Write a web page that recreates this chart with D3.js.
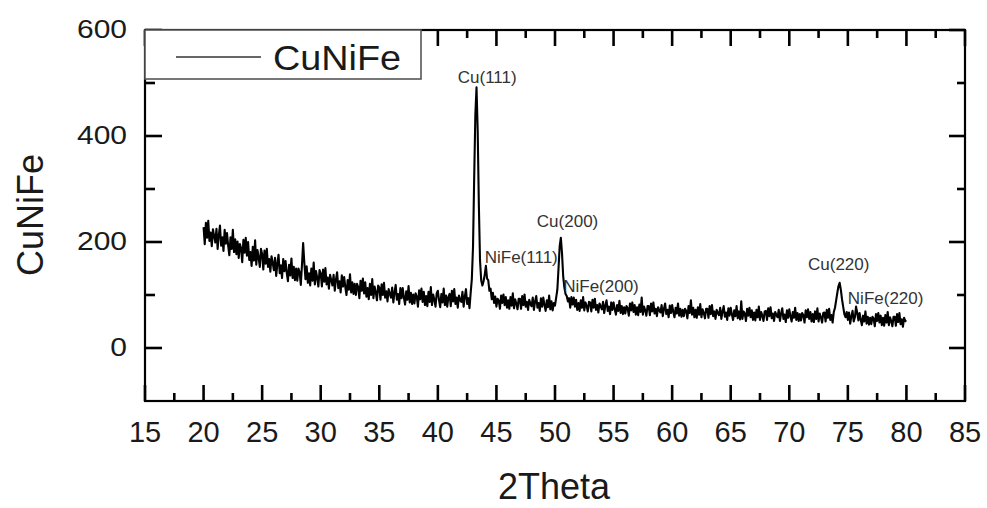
<!DOCTYPE html>
<html>
<head>
<meta charset="utf-8">
<script src="https://cdn.jsdelivr.net/npm/d3@7"></script>
<style>
  body { margin: 0; background: #fff; }
  svg { display: block; font-family: "Liberation Sans", Arial, sans-serif; }
</style>
</head>
<body>
<svg id="chart" width="987" height="508"></svg>
<script>
// scan: 20..80 deg, 0.1 deg step
const thetaStart = 20;
const thetaStep = 0.1;
const counts = [
  228,196,236,208,240,202,218,192,224,211, // 20
  199,225,187,213,231,193,209,183,223,197,
  217,193,175,209,187,223,181,205,177,201,
  170,196,188,162,204,180,208,174,200,166,
  181,155,191,165,203,157,185,171,153,187,
  177,148,184,159,187,153,168,144,173,161, // 25
  147,170,136,159,176,141,156,132,168,145,
  164,142,126,157,137,169,132,153,128,150,
  127,150,143,119,157,198,161,130,154,123,
  141,118,150,127,161,120,145,132,116,147,
  141,116,148,125,151,120,133,112,138,128, // 30
  118,138,108,129,143,113,126,105,137,116,
  134,115,100,128,110,139,105,124,102,121,
  100,121,115,94,127,108,131,103,124,97,
  113,92,121,100,130,94,116,105,90,118,
  114,91,120,100,123,95,107,88,111,102,    // 35
  95,114,86,105,119,91,102,83,113,94,
  113,95,82,107,91,117,86,104,83,101,
  84,103,97,78,109,92,112,87,106,81,
  98,79,106,87,115,81,101,91,78,103,
  108,90,77,102,86,112,81,99,78,96,        // 40
  102,79,108,88,111,83,95,76,99,90,
  87,106,78,97,111,83,94,75,104,130,
  190,320,440,492,410,270,165,128,118,126,
  138,155,131,128,108,112,92,104,85,97,
  78,93,89,74,99,85,101,81,96,76,          // 45
  90,74,96,80,103,75,92,84,73,93,
  93,74,98,81,101,78,87,72,91,83,
  79,95,72,88,98,76,85,70,94,78,
  95,81,70,90,77,99,73,88,71,85,
  80,95,110,150,192,208,178,135,114,102,   // 50
  98,88,94,76,96,82,95,78,91,72,
  85,70,90,76,96,71,86,79,69,87,
  86,69,91,76,93,72,81,67,84,78,
  73,87,66,80,90,70,78,64,86,72,
  86,73,63,81,70,89,66,79,64,77,           // 55
  65,79,75,61,84,71,86,68,81,63,
  77,62,82,68,95,63,78,71,61,79,
  79,62,84,69,86,65,74,60,77,71,
  67,81,60,74,84,64,72,58,80,66,
  81,68,58,76,65,84,61,74,59,72,           // 60
  60,74,70,56,79,66,90,63,76,58,
  72,57,77,63,83,58,73,66,56,74,
  74,57,79,64,81,60,69,55,72,66,
  62,76,55,69,79,59,67,53,75,61,
  76,63,53,71,60,79,56,69,54,88,           // 65
  55,69,65,51,74,61,76,58,71,53,
  67,52,72,58,78,53,68,61,51,69,
  70,53,75,60,77,56,65,51,68,62,
  58,72,51,65,75,55,63,49,71,57,
  73,60,50,68,57,76,53,66,51,64,           // 70
  52,66,62,48,71,58,73,55,68,50,
  64,49,69,55,75,50,65,58,48,66,
  67,50,72,57,74,53,62,48,68,76,
  90,104,117,123,110,92,78,64,58,68,
  53,67,46,60,70,50,58,78,66,52,           // 75
  66,53,43,61,50,69,46,59,44,57,
  45,59,55,41,64,51,66,48,61,43,
  57,42,62,48,68,43,58,51,41,59,
  59,42,64,49,66,45,54,40,57,51,
  50                                       // 80
];

const xMajor = [15, 20, 25, 30, 35, 40, 45, 50, 55, 60, 65, 70, 75, 80, 85];
const xMinor = [17.5, 22.5, 27.5, 32.5, 37.5, 42.5, 47.5, 52.5, 57.5, 62.5, 67.5, 72.5, 77.5, 82.5];
const yMajor = [0, 200, 400, 600];
const yMinor = [100, 300, 500];

const peakNames = ["Cu(111)", "NiFe(111)", "Cu(200)", "NiFe(200)", "Cu(220)", "NiFe(220)"];
const peakTheta = [41.7, 44.0, 48.45, 50.7, 71.6, 75.0];
const peakCount = [500, 160, 228, 106, 147, 83];

const seriesName = "CuNiFe";
const xTitle = "2Theta";
const yTitle = "CuNiFe";

const svg = d3.select("#chart");
const plotLeft = 145, plotRight = 965, plotTop = 30, plotBottom = 401;

const x = d3.scaleLinear().domain([15, 85]).range([plotLeft, plotRight]);
const y = d3.scaleLinear().domain([-100, 600]).range([plotBottom, plotTop]);

const data = counts.map((c, i) => ({ t: thetaStart + i * thetaStep, c: c }));

// data line
svg.append("path")
  .datum(data)
  .attr("fill", "none")
  .attr("stroke", "#000")
  .attr("stroke-width", 2.1)
  .attr("stroke-linejoin", "round")
  .attr("d", d3.line().x(d => x(d.t)).y(d => y(d.c)));

// axes, ticks pointing inward
function addAxis(axis, tx, ty, labels) {
  const g = svg.append("g").attr("transform", `translate(${tx},${ty})`).call(axis.offset(0));
  g.select(".domain").remove();
  g.selectAll("line").attr("stroke", "#000").attr("stroke-width", 2.6);
  if (!labels) g.selectAll("text").remove();
  return g;
}

const gx = addAxis(d3.axisBottom(x).tickValues(xMajor).tickSize(-16).tickPadding(20), 0, plotBottom, true);
gx.selectAll("text").attr("font-size", 29).attr("fill", "#1a1a1a").attr("font-family", "Liberation Sans, Arial, sans-serif");
addAxis(d3.axisBottom(x).tickValues(xMinor).tickSize(-8), 0, plotBottom, false);
addAxis(d3.axisTop(x).tickValues(xMajor).tickSize(-16), 0, plotTop, false);
addAxis(d3.axisTop(x).tickValues(xMinor).tickSize(-8), 0, plotTop, false);

const gy = addAxis(d3.axisLeft(y).tickValues(yMajor).tickSize(-17).tickPadding(18), plotLeft, 0, true);
gy.selectAll("text")
  .attr("font-size", 25).attr("fill", "#1a1a1a")
  .attr("font-family", "Liberation Sans, Arial, sans-serif")
  .attr("x", -18 / 1.2)
  .attr("transform", "scale(1.2,1)");
addAxis(d3.axisLeft(y).tickValues(yMinor).tickSize(-10), plotLeft, 0, false);
addAxis(d3.axisRight(y).tickValues(yMajor).tickSize(-16), plotRight, 0, false);
addAxis(d3.axisRight(y).tickValues(yMinor).tickSize(-8), plotRight, 0, false);

// frame
svg.append("rect")
  .attr("x", plotLeft).attr("y", plotTop)
  .attr("width", plotRight - plotLeft).attr("height", plotBottom - plotTop)
  .attr("fill", "none").attr("stroke", "#000").attr("stroke-width", 2.2);

// peak labels
svg.append("g").selectAll("text")
  .data(peakNames)
  .join("text")
  .attr("x", (d, i) => x(peakTheta[i]))
  .attr("y", (d, i) => y(peakCount[i]))
  .attr("font-size", 17)
  .attr("fill", "#333")
  .text(d => d);

// legend
const lg = svg.append("g");
lg.append("rect")
  .attr("x", plotLeft).attr("y", plotTop).attr("width", 276).attr("height", 49)
  .attr("fill", "#fff").attr("stroke", "#555").attr("stroke-width", 1.6);
lg.append("line")
  .attr("x1", 176).attr("x2", 261).attr("y1", 57).attr("y2", 57)
  .attr("stroke", "#333").attr("stroke-width", 1.3);
lg.append("text")
  .attr("x", 273 / 1.08).attr("y", 70)
  .attr("transform", "scale(1.08,1)")
  .attr("font-size", 35).attr("fill", "#1a1a1a")
  .text(seriesName);

// titles
svg.append("text")
  .attr("transform", "translate(43,215) rotate(-90)")
  .attr("text-anchor", "middle")
  .attr("font-size", 36).attr("fill", "#1a1a1a")
  .text(yTitle);

svg.append("text")
  .attr("x", 554).attr("y", 499)
  .attr("text-anchor", "middle")
  .attr("font-size", 36).attr("fill", "#1a1a1a")
  .text(xTitle);
</script>
</body>
</html>
